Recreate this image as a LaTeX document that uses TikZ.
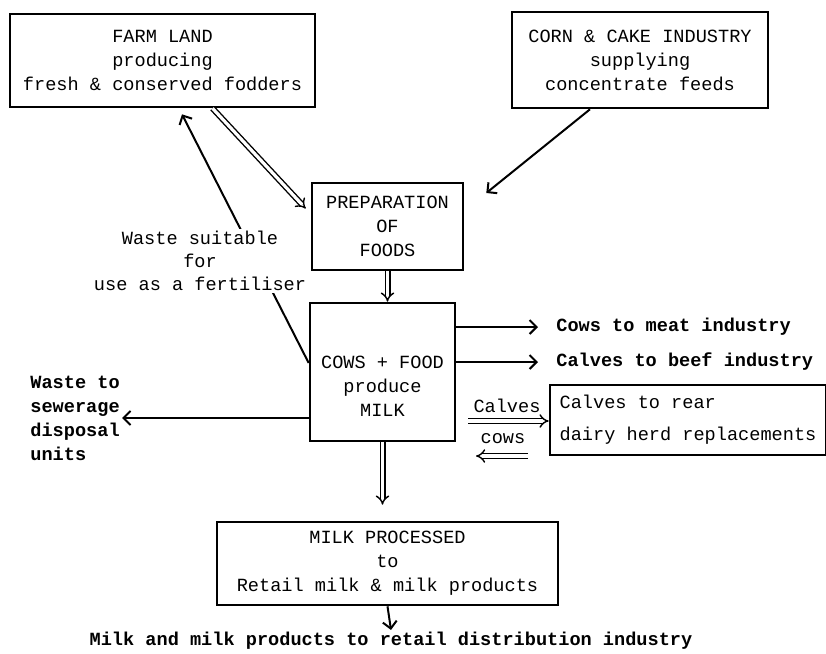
\documentclass[tikz,border=0pt]{standalone}
\usepackage{fontspec}
\setmainfont{Liberation Mono}
\usetikzlibrary{arrows.meta,positioning,backgrounds}
\tikzset{bx/.style={draw,line width=1.3pt,align=center,inner sep=0pt,font=\fontsize{9.3}{12}\selectfont},
 lbl/.style={align=left,inner sep=1pt,font=\fontsize{9.3}{12}\selectfont\bfseries},
 txt/.style={lbl,font=\fontsize{9.3}{11.5}\selectfont},
 arr/.style={-{Straight Barb[length=3.5pt,width=7pt]},line width=1pt},
 dbl/.style={-{Implies},double,double distance=1.6pt,line width=.7pt}}
\begin{document}
\begin{tikzpicture}[x=0.5pt,y=-0.5pt]
\useasboundingbox (0,0) rectangle (826,654);
% boxes
\node[bx,minimum width=152.5pt,minimum height=46.5pt] (farm) at (162.5,60.5) {FARM LAND\\producing\\fresh \& conserved fodders};
\node[bx,minimum width=128pt,minimum height=48pt] (corn) at (640,60) {CORN \& CAKE INDUSTRY\\supplying\\concentrate feeds};
\node[bx,minimum width=75.5pt,minimum height=43.5pt] (prep) at (387.5,226.5) {PREPARATION\\OF\\FOODS};
\node[bx,minimum width=72.5pt,minimum height=69pt] (cows) at (382.5,372) {\strut\\COWS + FOOD\\produce\\MILK};
\node[bx,minimum width=170.5pt,minimum height=41.5pt] (milk) at (387.5,563.5) {MILK PROCESSED\\to\\Retail milk \& milk products};
\node[bx,align=left,minimum width=138pt,minimum height=35pt] (rear) at (688,420) {Calves to rear\\[4pt]dairy herd replacements};
% labels
\node[txt,align=center,fill=white] (fert) at (200,261) {Waste suitable\\for\\use as a fertiliser};
\node[lbl,anchor=west] (sew) at (28,418) {Waste to\\sewerage\\disposal\\units};
\node[lbl,anchor=west] (meat) at (554,327) {Cows to meat industry};
\node[lbl,anchor=west] (beef) at (554,362) {Calves to beef industry};
\node[txt] (calv) at (507,406) {Calves};
\node[txt] (cw) at (503,439) {cows};
\node[lbl] (dist) at (391,641) {Milk and milk products to retail distribution industry};
\coordinate (c1) at (468,421);
\coordinate (c2) at (528,456);
\coordinate (c3) at (476,456);
% flows
\draw[dbl] ([xshift=25pt]farm.south) -- ([shift={(-2.5pt,9pt)}]prep.west);
\draw[arr] ([xshift=-25pt]corn.south) -- ([shift={(11pt,16.75pt)}]prep.east);
\draw[dbl] (prep.south) -- (prep.south |- cows.north);
\begin{scope}[on background layer]
\draw[arr] ([yshift=4.5pt]cows.west) -- ([shift={(9.75pt,-3pt)}]farm.south);
\end{scope}
\draw[arr] (cows.west |- sew) -- (sew.east);
\draw[arr,shorten >=8pt] (cows.east |- meat) -- (meat.west);
\draw[arr,shorten >=8pt] (cows.east |- beef) -- (beef.west);
\draw[dbl] (c1) -- (rear.west |- c1);
\draw[dbl] (c2) -- (c3);
\draw[dbl,shorten >=8pt] (cows.south) -- (cows.south |- milk.north);
\draw[arr] (milk.south) -- (dist.north);
\end{tikzpicture}
\end{document}
